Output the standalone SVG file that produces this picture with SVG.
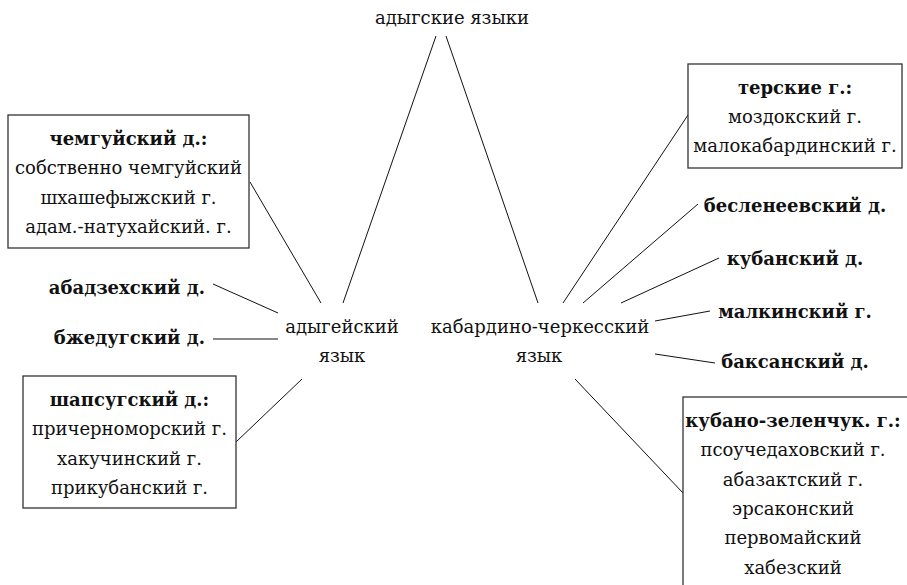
<svg xmlns="http://www.w3.org/2000/svg" width="907" height="585" viewBox="0 0 907 585">
<style>
text{font-family:'DejaVu Serif',serif;font-size:18px;fill:#111;text-anchor:middle}
.b{font-weight:bold}
.e{text-anchor:end}
.box{fill:#fff;stroke:#333;stroke-width:1.3}
.c line{stroke:#111;stroke-width:1}
</style>
<rect width="907" height="585" fill="#fff"/>
<g class="c" id="connectors">
<line x1="436" y1="36" x2="343" y2="303"/>
<line x1="446" y1="36" x2="538" y2="303"/>
<line x1="250" y1="182" x2="321" y2="303"/>
<line x1="213" y1="284" x2="278" y2="313"/>
<line x1="213" y1="339" x2="278" y2="339"/>
<line x1="236" y1="442" x2="302" y2="379"/>
<line x1="688" y1="115" x2="563" y2="303"/>
<line x1="698" y1="204" x2="583" y2="303"/>
<line x1="719" y1="258" x2="621" y2="303"/>
<line x1="710" y1="311" x2="655" y2="321"/>
<line x1="655" y1="354" x2="715" y2="363"/>
<line x1="575" y1="379" x2="683" y2="493"/>
</g>
<g id="root"><text x="452" y="24">адыгские языки</text></g>
<g id="adyghe"><text x="342" y="333">адыгейский</text><text x="342" y="362">язык</text></g>
<g id="kabardian"><text x="540" y="333">кабардино-черкесский</text><text x="539" y="362">язык</text></g>
<g id="chemguy">
<rect class="box" x="8" y="115" width="241" height="133"/>
<text x="128.5" y="145" class="b">чемгуйский д.:</text>
<text x="128.5" y="174">собственно чемгуйский</text>
<text x="128.5" y="204">шхашефыжский г.</text>
<text x="128.5" y="233">адам.-натухайский. г.</text>
</g>
<g id="abadzekh"><text x="205" y="294" class="b e">абадзехский д.</text></g>
<g id="bzhedug"><text x="205" y="344" class="b e">бжедугский д.</text></g>
<g id="shapsug">
<rect class="box" x="23" y="376" width="213" height="132"/>
<text x="129.5" y="406" class="b">шапсугский д.:</text>
<text x="129.5" y="435">причерноморский г.</text>
<text x="129.5" y="465">хакучинский г.</text>
<text x="129.5" y="494">прикубанский г.</text>
</g>
<g id="terek">
<rect class="box" x="688" y="64" width="214" height="104"/>
<text x="795" y="94" class="b">терские г.:</text>
<text x="795" y="123">моздокский г.</text>
<text x="795" y="152">малокабардинский г.</text>
</g>
<g id="beslenei"><text x="795" y="212" class="b">бесленеевский д.</text></g>
<g id="kuban"><text x="795" y="265" class="b">кубанский д.</text></g>
<g id="malka"><text x="795" y="318" class="b">малкинский г.</text></g>
<g id="baksan"><text x="795" y="368" class="b">баксанский д.</text></g>
<g id="kubanzelenchuk">
<rect class="box" x="683" y="397" width="240" height="200"/>
<text x="793" y="427" class="b">кубано-зеленчук. г.:</text>
<text x="793" y="456">псоучедаховский г.</text>
<text x="793" y="486">абазактский г.</text>
<text x="793" y="515">эрсаконский</text>
<text x="793" y="544">первомайский</text>
<text x="793" y="574">хабезский</text>
</g>
</svg>
